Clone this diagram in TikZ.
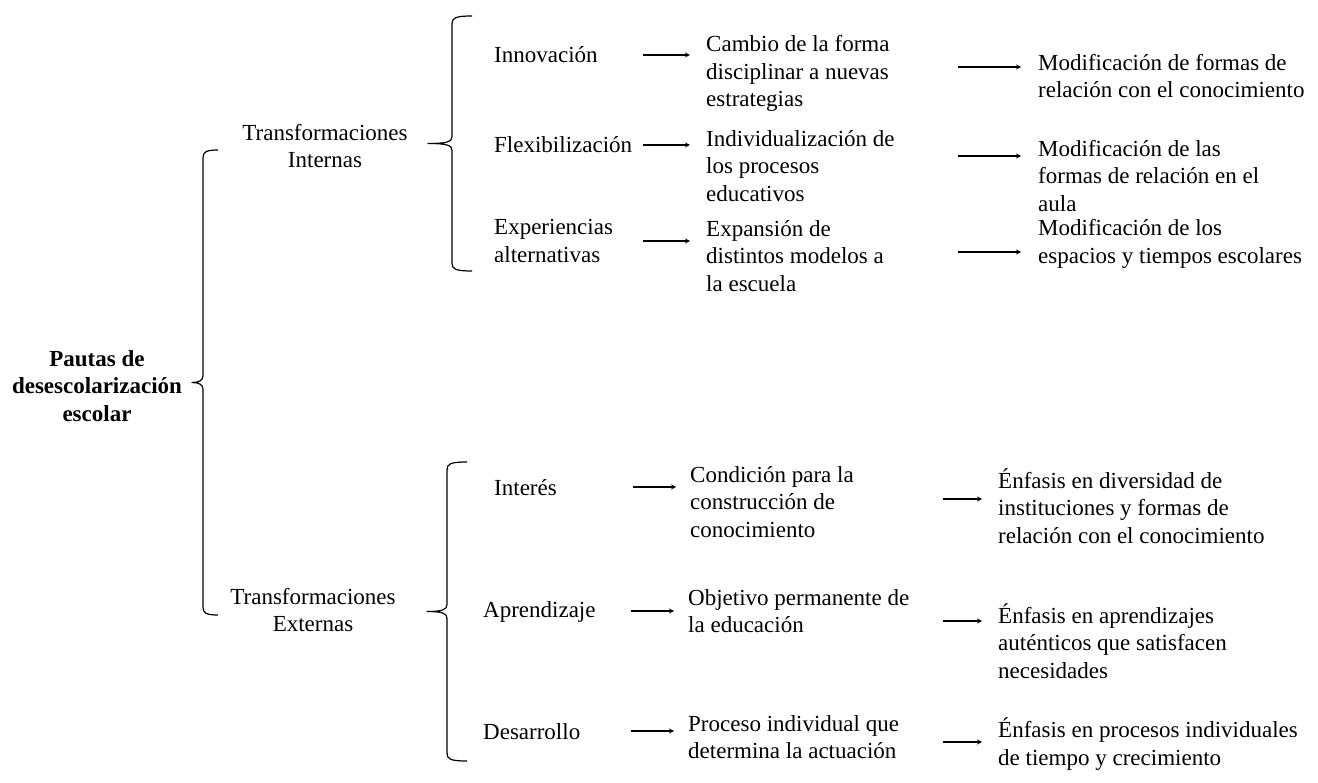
\documentclass[tikz,border=0pt]{standalone}
\usepackage{fontspec}
\setmainfont{Liberation Serif}
\usetikzlibrary{calc}
\tikzset{
  txt/.style={inner sep=0pt, align=left, anchor=west, font=\fontsize{23}{27.5}\selectfont},
  ctxt/.style={inner sep=0pt, align=center, font=\fontsize{23}{27.5}\selectfont},
  brc/.style={line width=1.2pt, line join=round},
  arr/.style={->, line width=1.2pt}
}
% brace: line x, hook x, tip x, top y, bottom y
\newcommand{\sqbrace}[5]{%
  \draw[brc] (#2,#4) .. controls ({#1+3},#4) and (#1,{#4+2}) .. (#1,{#4+8})
    -- (#1,{(#4+#5)/2-7}) .. controls (#1,{(#4+#5)/2-2}) and ({#1-4},{(#4+#5)/2}) .. (#3,{(#4+#5)/2})
    .. controls ({#1-4},{(#4+#5)/2}) and (#1,{(#4+#5)/2+2}) .. (#1,{(#4+#5)/2+7})
    -- (#1,{#5-8}) .. controls (#1,{#5-2}) and ({#1+3},#5) .. (#2,#5);}
\begin{document}
\begin{tikzpicture}[>=stealth, x=1pt, y=-1pt]
\useasboundingbox (0,0) rectangle (1318,783);
% first and second level
\node[ctxt, font=\fontsize{23}{27.5}\selectfont\bfseries] (pautas) at (97,386) {Pautas de\\desescolarización\\escolar};
\node[ctxt] (ti) at (325,146) {Transformaciones\\Internas};
\node[ctxt] (te) at (313,610) {Transformaciones\\Externas};
% internal branch
\node[txt] (inn) at (494,55) {Innovación};
\node[txt] (flex) at (494,145) {Flexibilización};
\node[txt] (exp) at (494,241) {Experiencias\\alternativas};
\node[txt] (cam) at (706,73.5) {Cambio de la forma\\disciplinar a nuevas\\estrategias};
\node[txt] (ind) at (706,166) {Individualización de\\los procesos\\educativos};
\node[txt] (expa) at (706,256) {Expansión de\\distintos modelos a\\la escuela};
\node[txt] (mod1) at (1038,76) {Modificación de formas de\\relación con el conocimiento};
\node[txt] (mod2) at (1038,176) {Modificación de las\\formas de relación en el\\aula};
\node[txt] (mod3) at (1038,244) {Modificación de los\\espacios y tiempos escolares};
% external branch
\node[txt] (int) at (494,488) {Interés};
\node[txt] (apr) at (483,612) {Aprendizaje};
\node[txt] (des) at (483,732) {Desarrollo};
\node[txt] (cond) at (690,502) {Condición para la\\construcción de\\conocimiento};
\node[txt] (obj) at (688,611) {Objetivo permanente de\\la educación};
\node[txt] (proc) at (688,737) {Proceso individual que\\determina la actuación};
\node[txt] (enf1) at (998,506) {Énfasis en diversidad de\\instituciones y formas de\\relación con el conocimiento};
\node[txt] (enf2) at (998,641) {Énfasis en aprendizajes\\auténticos que satisfacen\\necesidades};
\node[txt] (enf3) at (998,744) {Énfasis en procesos individuales\\de tiempo y crecimiento};
% braces
\sqbrace{203}{218}{192}{150}{615}
\sqbrace{452}{472}{428}{16}{271}
\sqbrace{447}{467}{427}{462}{761}
% arrows
\foreach \s/\t in {inn/cam, flex/ind, exp/expa}
  \draw[arr] ($(\s.east -| \t.west)+(-63,0)$) -- ($(\s.east -| \t.west)+(-16,0)$);
\foreach \s/\t in {int/cond, apr/obj, des/proc}
  \draw[arr] ($(\s.east -| \t.west)+(-57,-1)$) -- ($(\s.east -| \t.west)+(-14,-1)$);
\foreach \s/\t/\dy in {cam/mod1/-6.5, ind/mod2/-10, expa/mod3/-4}
  \draw[arr] ($(\s.east -| \t.west)+(-80,\dy)$) -- ($(\s.east -| \t.west)+(-17,\dy)$);
\foreach \s/\t/\dy in {cond/enf1/-3, obj/enf2/10, proc/enf3/5}
  \draw[arr] ($(\s.east -| \t.west)+(-55,\dy)$) -- ($(\s.east -| \t.west)+(-16,\dy)$);
\end{tikzpicture}
\end{document}
